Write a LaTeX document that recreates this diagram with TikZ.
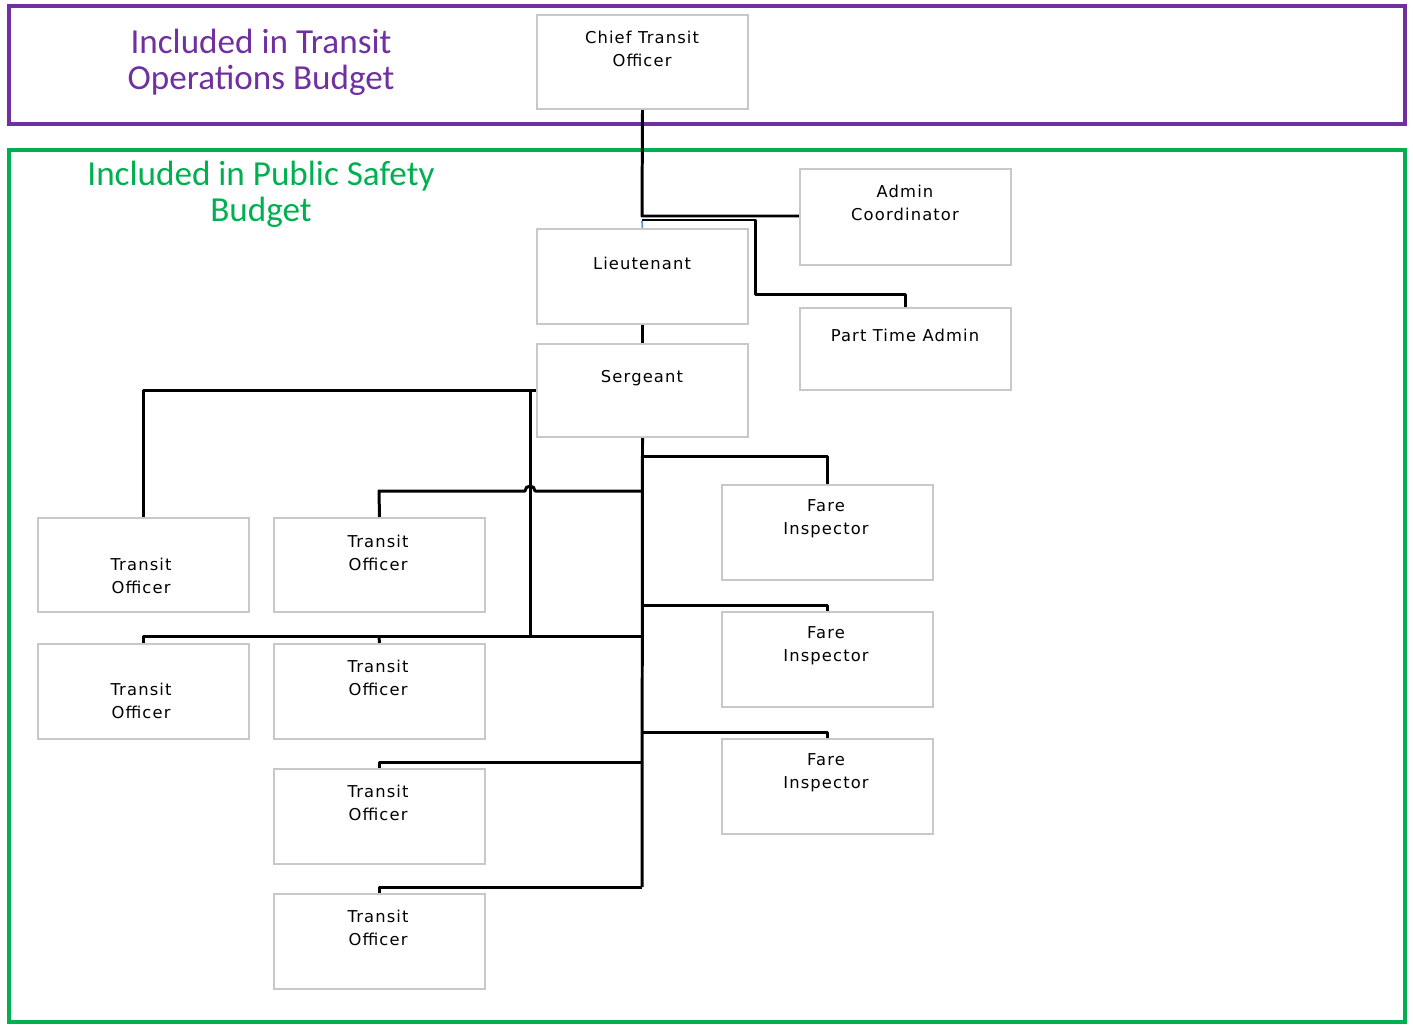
\documentclass[tikz,border=0pt]{standalone}
\usepackage{fontspec}
\setmainfont{DejaVu Sans}
\newfontfamily\headfont{Carlito}
\newfontfamily\boxfont[LetterSpace=7]{DejaVu Sans}
\usetikzlibrary{shadows}
\definecolor{budgetpurple}{RGB}{112,48,160}
\definecolor{budgetgreen}{RGB}{0,176,80}
\definecolor{boxgray}{RGB}{200,200,200}
\definecolor{linkblue}{RGB}{91,155,213}
\tikzset{
  orgbox/.style={draw=boxgray, line width=0.6pt, fill=white, rectangle, inner sep=0pt, anchor=north west,
     minimum width=4.2cm, minimum height=1.88cm,
     drop shadow={opacity=0.12, shadow xshift=0.6pt, shadow yshift=-0.8pt, fill=blue!30!gray}},
  boxtext/.style={align=center, inner sep=0pt, font=\boxfont\fontsize{9.3}{13.3}\selectfont},
  conn/.style={draw=black, line width=1.7pt, line join=round},
  headtext/.style={align=center, inner sep=0pt, font=\headfont\fontsize{20}{20.3}\selectfont},
}
\begin{document}
\begin{tikzpicture}[x=0.02cm, y=-0.02cm]
\useasboundingbox (0,0) rectangle (1413,1025);
% budget frames
\draw[budgetpurple, line width=2.3pt] (9,6) rectangle (1405,124);
\draw[budgetgreen, line width=1.8pt] (9,150) rectangle (1405,1022);
\node[headtext, text=budgetpurple] (hdtransit) at (261,62) {Included in Transit\\Operations Budget};
\node[headtext, text=budgetgreen] (hdsafety) at (261,194) {Included in Public Safety\\Budget};

% boxes
\node[orgbox, minimum height=1.86cm] (chief) at (537,15) {};
\node[orgbox, minimum height=1.9cm] (admin) at (800,169) {};
\node[orgbox] (lieut) at (537,229) {};
\node[orgbox, minimum height=1.62cm] (parttime) at (800,308) {};
\node[orgbox, minimum height=1.84cm] (serg) at (537,344) {};
\node[orgbox, minimum height=1.86cm] (toA) at (38,518) {};
\node[orgbox, minimum height=1.86cm] (toB) at (274,518) {};
\node[orgbox] (fareA) at (722,485) {};
\node[orgbox] (fareB) at (722,612) {};
\node[orgbox] (fareC) at (722,739) {};
\node[orgbox] (toC) at (38,644) {};
\node[orgbox] (toD) at (274,644) {};
\node[orgbox] (toE) at (274,769) {};
\node[orgbox] (toF) at (274,894) {};

% connectors
\draw[conn] (chief.south) -- (642,216) -- (admin.west |- 642,216);
\draw[conn] (642,220) -- (755,220) -- (755,294) -| (parttime.north);
\draw[conn, draw=linkblue, line width=1pt] (642,221) -- (lieut.north);
\draw[conn] (lieut.south) -- (serg.north);
\draw[conn] (serg.west) -| (toA.north);
\draw[conn] (530,390) -- (530,636);
\coordinate (trunkend) at (642,887);
\draw[conn] (serg.south) -- (trunkend);
\draw[conn] (642,456) -| (fareA.north);
\draw[conn] (642,491) -- (535,491) arc[start angle=0, end angle=180, radius=0.1cm] -- (379,491) -- (toB.north);
\draw[conn] (642,605) -| (fareB.north);
\draw[conn] (642,636) -| (toC.north);
\draw[conn] (379,636) -- (toD.north);
\draw[conn] (642,732) -| (fareC.north);
\draw[conn] (642,762) -| (toE.north);
\draw[conn] (trunkend) -| (toF.north);

% redraw box outlines over line ends
\foreach \b in {chief,admin,lieut,parttime,serg,toA,toB,fareA,fareB,fareC,toC,toD,toE,toF}
  \draw[boxgray, line width=0.6pt] (\b.north west) rectangle (\b.south east);

% texts
\node[boxtext] (tchief) at (642,49) {Chief Transit\\Officer};
\node[boxtext] (tadmin) at (905,203) {Admin\\Coordinator};
\node[boxtext] (tlieut) at (642,263) {Lieutenant};
\node[boxtext] (tparttime) at (905,335) {Part Time Admin};
\node[boxtext] (tserg) at (642,378) {Sergeant};
\node[boxtext] (ttoA) at (141,576) {Transit\\Officer};
\node[boxtext] (ttoB) at (378,553) {Transit\\Officer};
\node[boxtext] (tfareA) at (826,519) {Fare\\Inspector};
\node[boxtext] (tfareB) at (826,646) {Fare\\Inspector};
\node[boxtext] (tfareC) at (826,773) {Fare\\Inspector};
\node[boxtext] (ttoC) at (141,701) {Transit\\Officer};
\node[boxtext] (ttoD) at (378,678) {Transit\\Officer};
\node[boxtext] (ttoE) at (378,803) {Transit\\Officer};
\node[boxtext] (ttoF) at (378,928) {Transit\\Officer};
\end{tikzpicture}
\end{document}
